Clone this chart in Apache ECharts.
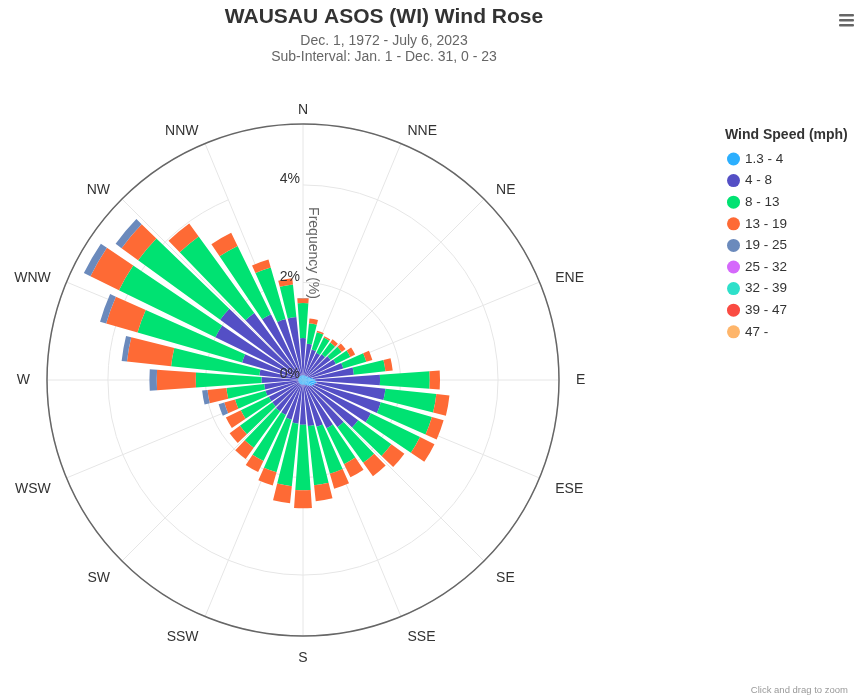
<!DOCTYPE html>
<html>
<head>
<meta charset="utf-8">
<title>WAUSAU ASOS (WI) Wind Rose</title>
<script src="https://cdn.jsdelivr.net/npm/echarts@6/dist/echarts.min.js"></script>
<style>
  html, body { margin: 0; padding: 0; background: #fff; }
  #main { width: 859px; height: 700px; }
</style>
</head>
<body>
<div id="main"></div>
<script>
// 36 direction bins, 10 degrees each, starting at N
var directions = ['0', '10', '20', '30', '40', '50', '60', '70', '80', '90', '100', '110',
    '120', '130', '140', '150', '160', '170', '180', '190', '200', '210', '220', '230',
    '240', '250', '260', '270', '280', '290', '300', '310', '320', '330', '340', '350'];
var compass = ['N', 'NNE', 'NE', 'ENE', 'E', 'ESE', 'SE', 'SSE',
    'S', 'SSW', 'SW', 'WSW', 'W', 'WNW', 'NW', 'NNW'];
var speedBins = ['1.3 - 4', '4 - 8', '8 - 13', '13 - 19', '19 - 25', '25 - 32', '32 - 39', '39 - 47', '47 -'];
var radialTicks = [0, 2, 4];

// frequency (%) per direction, one array per speed bin
var s1 = [0.10, 0.10, 0.10, 0.10, 0.10, 0.12, 0.12, 0.15, 0.20, 0.25, 0.28, 0.25,
    0.22, 0.18, 0.15, 0.12, 0.10, 0.10, 0.10, 0.10, 0.10, 0.10, 0.10, 0.10,
    0.10, 0.10, 0.10, 0.10, 0.10, 0.10, 0.10, 0.10, 0.10, 0.10, 0.10, 0.10];
var s2 = [0.76, 0.65, 0.55, 0.52, 0.55, 0.58, 0.63, 0.71, 0.85, 1.33, 1.42, 1.41,
    1.33, 1.22, 1.05, 0.98, 0.90, 0.85, 0.82, 0.80, 0.75, 0.70, 0.70, 0.68,
    0.68, 0.70, 0.70, 0.75, 0.80, 1.20, 1.90, 2.00, 1.60, 1.40, 1.20, 1.20];
var s3 = [0.72, 0.42, 0.37, 0.35, 0.30, 0.28, 0.33, 0.49, 0.65, 1.02, 1.05, 1.09,
    1.12, 0.84, 0.90, 0.82, 1.00, 1.22, 1.34, 1.29, 1.12, 1.05, 0.92, 0.82,
    0.64, 0.65, 0.78, 1.35, 1.82, 2.23, 2.20, 2.08, 1.94, 1.56, 1.10, 0.67];
var s4 = [0.10, 0.10, 0.03, 0.03, 0.08, 0.10, 0.11, 0.13, 0.15, 0.21, 0.27, 0.25,
    0.33, 0.33, 0.34, 0.30, 0.32, 0.33, 0.37, 0.35, 0.28, 0.25, 0.28, 0.26,
    0.34, 0.23, 0.39, 0.80, 0.91, 0.67, 0.65, 0.42, 0.33, 0.30, 0.17, 0.13];
var s5 = [0, 0, 0, 0, 0, 0, 0, 0, 0, 0, 0, 0,
    0, 0, 0, 0, 0, 0, 0, 0, 0, 0, 0, 0,
    0, 0.12, 0.11, 0.15, 0.11, 0.13, 0.15, 0.15, 0, 0, 0, 0];
var s6 = [0, 0, 0, 0, 0, 0, 0, 0, 0, 0, 0, 0, 0, 0, 0, 0, 0, 0,
    0, 0, 0, 0, 0, 0, 0, 0, 0, 0, 0, 0, 0, 0, 0, 0, 0, 0];
var s7 = s6.slice();
var s8 = s6.slice();
var s9 = s6.slice();
var speedData = [s1, s2, s3, s4, s5, s6, s7, s8, s9];
var colors = ['#2caffe', '#544fc5', '#00e272', '#fe6a35', '#6b8abc', '#d568fb', '#2ee0ca', '#fa4b42', '#feb56a'];

var FONT = '"Liberation Sans", Arial, Helvetica, sans-serif';
var CX = 303, CY = 380, R = 256, RMAX = 5.25;

var myChart = echarts.init(document.getElementById('main'));

var series = speedBins.map(function (name, i) {
    return {
        name: name,
        type: 'bar',
        coordinateSystem: 'polar',
        polarIndex: 0,
        stack: 'wind',
        barCategoryGap: '20%',
        itemStyle: { color: colors[i] },
        emphasis: { disabled: true },
        data: speedData[i]
    };
});

var option = {
    animation: false,
    color: colors,
    textStyle: { fontFamily: FONT },
    title: [{
        text: 'WAUSAU ASOS (WI) Wind Rose',
        left: 384,
        top: 7,
        padding: 0,
        textAlign: 'center',
        textStyle: { fontSize: 21, fontWeight: 'bold', color: '#333333', fontFamily: FONT }
    }, {
        text: 'Dec. 1, 1972 - July 6, 2023\nSub-Interval: Jan. 1 - Dec. 31, 0 - 23',
        left: 384,
        top: 33,
        padding: 0,
        textAlign: 'center',
        textStyle: { fontSize: 14, fontWeight: 'normal', color: '#666666', lineHeight: 16, fontFamily: FONT }
    }, {
        text: 'Wind Speed (mph)',
        left: 725,
        top: 128,
        padding: 0,
        textStyle: { fontSize: 14, fontWeight: 'bold', color: '#333333', fontFamily: FONT }
    }],
    legend: {
        orient: 'vertical',
        left: 727,
        top: 152,
        padding: 0,
        itemWidth: 13,
        itemHeight: 13,
        itemGap: 7.6,
        icon: 'circle',
        data: speedBins,
        textStyle: { fontSize: 13.5, color: '#333333', fontFamily: FONT }
    },
    polar: [
        { center: [CX, CY], radius: R },
        { center: [CX, CY], radius: R },
        { center: [CX, CY], radius: R }
    ],
    angleAxis: [{
        polarIndex: 0,
        type: 'category',
        data: directions,
        startAngle: 95,
        clockwise: true,
        boundaryGap: true,
        axisLine: { show: true, lineStyle: { color: '#666666', width: 1.5 } },
        axisTick: { show: false },
        axisLabel: { show: false },
        splitLine: { show: false }
    }, {
        polarIndex: 1,
        type: 'category',
        data: compass,
        startAngle: 90,
        clockwise: true,
        boundaryGap: false,
        axisLine: { show: false },
        axisTick: { show: false },
        // tiny lineHeight keeps every label centred on its anchor point
        axisLabel: { color: '#333333', fontSize: 14, margin: 17, lineHeight: 1, padding: [4.5, 0, -3.5, 0], fontFamily: FONT },
        splitLine: { show: true, lineStyle: { color: '#e6e6e6', width: 1 } }
    }, {
        polarIndex: 2,
        type: 'category',
        data: compass,
        startAngle: 90,
        boundaryGap: false,
        show: false
    }],
    radiusAxis: [{
        polarIndex: 0,
        type: 'value',
        min: 0,
        max: RMAX,
        show: false
    }, {
        polarIndex: 1,
        type: 'value',
        min: 0,
        max: RMAX,
        interval: 2,
        axisLine: { show: false },
        axisTick: { show: false },
        axisLabel: { show: false },
        splitLine: { show: true, lineStyle: { color: '#e6e6e6', width: 1 } }
    }, {
        // labels only, drawn above the bars
        polarIndex: 2,
        type: 'value',
        min: 0,
        max: RMAX,
        interval: 2,
        z: 10,
        axisLine: { show: false },
        axisTick: { show: false },
        splitLine: { show: false },
        axisLabel: {
            showMaxLabel: false,
            color: '#333333',
            fontSize: 14,
            margin: 3,
            verticalAlign: 'bottom',
            lineHeight: 11,
            fontFamily: FONT,
            formatter: function (v) { return radialTicks.indexOf(v) >= 0 ? v + '%' : ''; }
        }
    }],
    graphic: [{
        type: 'text',
        x: 313,
        y: 253,
        z: 10,
        rotation: -Math.PI / 2,
        style: {
            text: 'Frequency (%)',
            fill: '#666666',
            font: '14px ' + FONT,
            align: 'center',
            verticalAlign: 'middle'
        }
    }, {
        type: 'text',
        right: 11,
        top: 685,
        style: { text: 'Click and drag to zoom', fill: '#999999', font: '9.5px ' + FONT }
    }, {
        type: 'group',
        left: 839,
        top: 14,
        children: [0, 5, 10].map(function (dy) {
            return { type: 'rect', shape: { x: 0, y: dy, width: 15, height: 2.5, r: 1 }, style: { fill: '#666666' } };
        })
    }],
    series: series
};

myChart.setOption(option);
window.addEventListener('resize', function () {
    myChart.resize();
});
</script>
</body>
</html>
